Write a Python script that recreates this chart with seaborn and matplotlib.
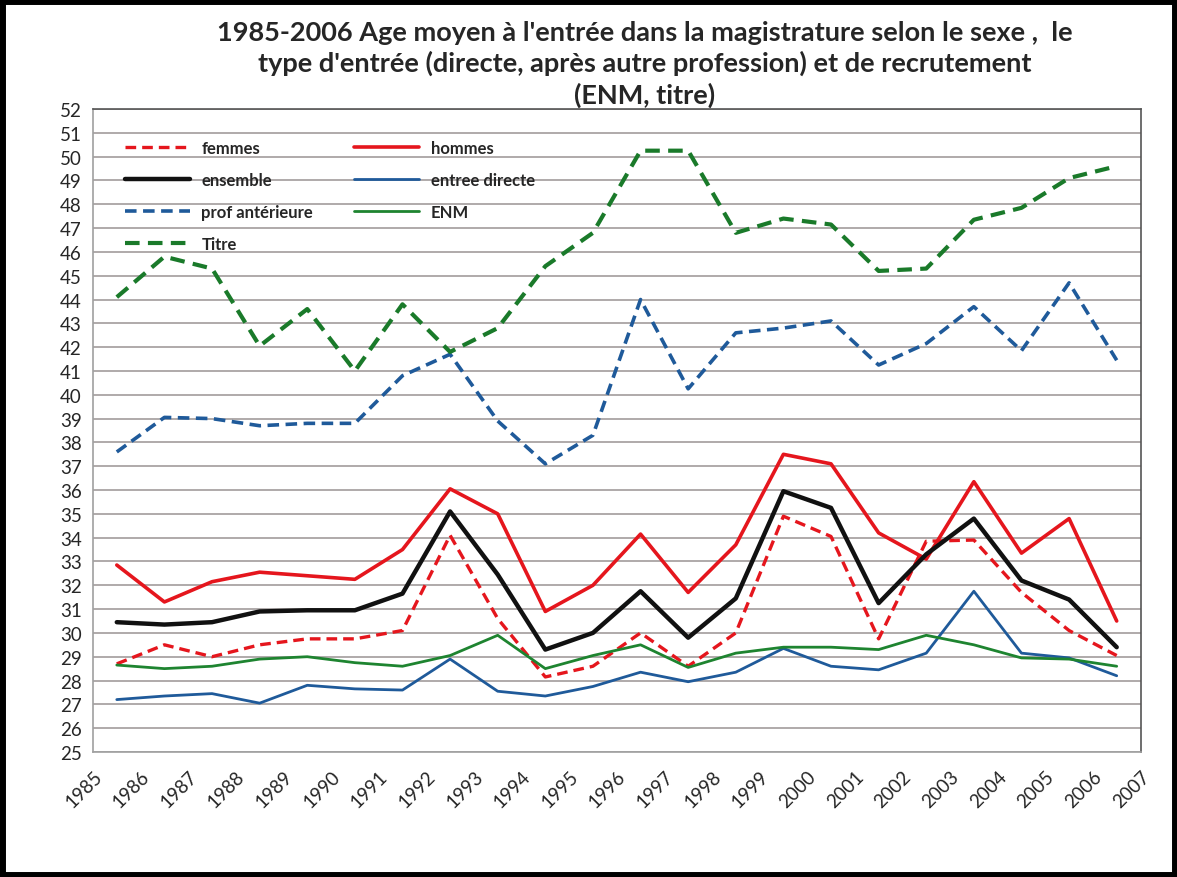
import numpy as np
import pandas as pd
import matplotlib
matplotlib.use("Agg")
import matplotlib.pyplot as plt
import seaborn as sns
from matplotlib.patches import Rectangle

years = list(range(1985, 2007))
femmes = [28.7, 29.5, 29.0, 29.5, 29.75, 29.75, 30.1, 34.1, 30.6, 28.15, 28.6, 30.0,
          28.6, 30.0, 34.9, 34.05, 29.75, 33.85, 33.9, 31.7, 30.1, 29.05]
hommes = [32.85, 31.3, 32.15, 32.55, 32.4, 32.25, 33.5, 36.05, 35.0, 30.9, 32.0, 34.15,
          31.7, 33.7, 37.5, 37.1, 34.2, 33.1, 36.35, 33.35, 34.8, 30.5]
ensemble = [30.45, 30.35, 30.45, 30.9, 30.95, 30.95, 31.65, 35.1, 32.45, 29.3, 30.0, 31.75,
            29.8, 31.45, 35.95, 35.25, 31.25, 33.3, 34.8, 32.2, 31.4, 29.4]
entree_directe = [27.2, 27.35, 27.45, 27.05, 27.8, 27.65, 27.6, 28.9, 27.55, 27.35, 27.75, 28.35,
                  27.95, 28.35, 29.35, 28.6, 28.45, 29.15, 31.75, 29.15, 28.95, 28.2]
prof_anterieure = [37.6, 39.05, 39.0, 38.7, 38.8, 38.8, 40.8, 41.7, 38.9, 37.1, 38.3, 44.0,
                   40.25, 42.6, 42.8, 43.1, 41.25, 42.15, 43.7, 41.85, 44.7, 41.45]
enm = [28.65, 28.5, 28.6, 28.9, 29.0, 28.75, 28.6, 29.05, 29.9, 28.5, 29.05, 29.5,
       28.55, 29.15, 29.4, 29.4, 29.3, 29.9, 29.5, 28.95, 28.9, 28.6]
titre = [44.1, 45.8, 45.3, 42.05, 43.6, 41.0, 43.8, 41.8, 42.8, 45.4, 46.8, 50.25,
         50.25, 46.8, 47.4, 47.15, 45.2, 45.3, 47.35, 47.85, 49.1, 49.6]

labels = ["femmes", "hommes", "ensemble", "entree directe", "prof antérieure", "ENM", "Titre"]
series = [femmes, hommes, ensemble, entree_directe, prof_anterieure, enm, titre]
colors = ["#E5161D", "#E5161D", "#111111", "#1F5A9A", "#1F5A9A", "#1E8430", "#1A7A2A"]
widths = [2.4, 2.6, 3.2, 2.0, 2.6, 2.0, 3.0]
dashed = [True, False, False, False, True, False, True]

title = ("1985-2006 Age moyen à l'entrée dans la magistrature selon le sexe ,  le\n"
         "type d'entrée (directe, après autre profession) et de recrutement\n"
         "(ENM, titre)")

sns.set_style("white")
plt.rcParams['font.family'] = ['Lato', 'DejaVu Sans']

fig = plt.figure(figsize=(11.77, 8.78), dpi=100)
ax = fig.add_axes([0.079, 0.1424, 0.890, 0.7323])

xpos = [y + 0.5 for y in years]
for lab, vals, col, lw, dsh in zip(labels, series, colors, widths, dashed):
    df = pd.DataFrame({"x": xpos, "y": vals})
    sns.lineplot(data=df, x="x", y="y", ax=ax, color=col, linewidth=lw,
                 label=lab, zorder=3)
    line = ax.get_lines()[-1]
    if dsh:
        line.set_dashes((3.2, 1.8) if lab != "Titre" else (3.5, 2.0))

ax.set_xlim(1985, 2007)
ax.set_ylim(25, 52)
ax.set_yticks(range(25, 53))
ax.set_xticks(range(1985, 2008))
ax.set_xticklabels([str(y) for y in range(1985, 2008)], rotation=45, ha="right",
                   rotation_mode="anchor", fontsize=13.5)
ax.tick_params(axis="y", labelsize=13.5, length=4, color="#888888", pad=4)
ax.tick_params(axis="x", length=5, color="#BBBBBB", pad=6)
ax.set_xlabel("")
ax.set_ylabel("")
ax.grid(axis="y", color="#9A9393", linewidth=1.1)
ax.set_axisbelow(True)
for s in ["top", "right"]:
    ax.spines[s].set_color("#555555")
    ax.spines[s].set_linewidth(1.2)
for s in ["left", "bottom"]:
    ax.spines[s].set_color("#A0A0A0")
    ax.spines[s].set_linewidth(1.2)

handles, labs = ax.get_legend_handles_labels()
order = [0, 2, 4, 6, 1, 3, 5]
leg = ax.legend([handles[i] for i in order], [labs[i] for i in order], ncol=2,
                loc="upper left", bbox_to_anchor=(0.016, 0.975),
                frameon=False, fontsize=12, handlelength=3.9, columnspacing=2.45,
                labelspacing=0.95, handletextpad=0.7)
for t in leg.get_texts():
    t.set_fontweight("bold")

fig.text(0.548, 0.976, title, ha="center", va="top", fontsize=19.5, fontweight="bold",
         linespacing=1.28)

fig.patches.append(Rectangle((0.002, 0.002), 0.996, 0.996, transform=fig.transFigure,
                             fill=False, edgecolor="black", linewidth=5))

fig.savefig("out.png", dpi=100)
